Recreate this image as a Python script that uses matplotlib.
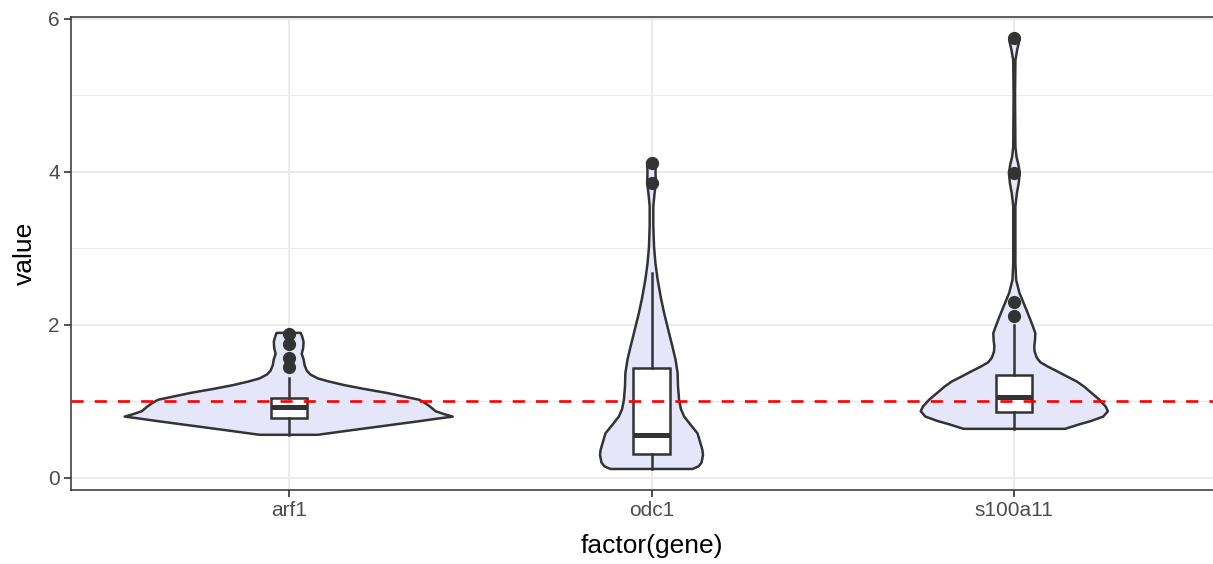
import numpy as np
import matplotlib
matplotlib.use("Agg")
import matplotlib.pyplot as plt

plt.rcParams["font.family"] = ["Liberation Sans", "DejaVu Sans"]

genes = ["arf1", "odc1", "s100a11"]

# violin outline: value level and half-width of the density at that level
arf1_levels = [0.562, 0.62, 0.68, 0.74, 0.78, 0.80, 0.83, 0.87, 0.93, 0.98, 1.02,
               1.06, 1.11, 1.16, 1.21, 1.26, 1.30, 1.35, 1.40, 1.47, 1.55, 1.62,
               1.70, 1.78, 1.85, 1.895]
arf1_width = [0.08, 0.17, 0.265, 0.36, 0.42, 0.452, 0.43, 0.405, 0.39, 0.375, 0.36,
              0.32, 0.27, 0.21, 0.155, 0.11, 0.08, 0.06, 0.05, 0.044, 0.041, 0.036,
              0.040, 0.041, 0.037, 0.033]

odc1_levels = [0.115, 0.15, 0.2, 0.3, 0.37, 0.45, 0.58, 0.68, 0.80, 0.90, 1.02,
               1.2, 1.37, 1.55, 1.71, 1.9, 2.15, 2.35, 2.59, 2.8, 3.02, 3.3, 3.55,
               3.7, 3.86, 4.0, 4.13]
odc1_width = [0.113, 0.13, 0.138, 0.142, 0.14, 0.135, 0.127, 0.11, 0.09, 0.081, 0.076,
              0.073, 0.072, 0.066, 0.058, 0.048, 0.035, 0.026, 0.017, 0.011, 0.007,
              0.005, 0.005, 0.008, 0.012, 0.011, 0.012]

s100a11_levels = [0.64, 0.70, 0.74, 0.80, 0.87, 0.93, 1.02, 1.10, 1.19, 1.26, 1.32,
                  1.40, 1.455, 1.51, 1.57, 1.65, 1.72, 1.80, 1.89, 1.97, 2.07, 2.2,
                  2.42, 2.59, 2.8, 3.3, 3.55, 3.72, 3.85, 3.99, 4.1, 4.2, 4.33, 5.0,
                  5.46, 5.6, 5.7, 5.75]
s100a11_width = [0.14, 0.18, 0.21, 0.245, 0.258, 0.252, 0.235, 0.215, 0.193, 0.172,
                 0.147, 0.115, 0.092, 0.072, 0.062, 0.056, 0.055, 0.057, 0.058, 0.052,
                 0.044, 0.033, 0.014, 0.005, 0.003, 0.003, 0.003, 0.007, 0.012, 0.015,
                 0.011, 0.006, 0.003, 0.002, 0.003, 0.008, 0.013, 0.014]

# boxplot summaries
box_q1 = [0.78, 0.31, 0.855]
box_med = [0.92, 0.56, 1.05]
box_q3 = [1.04, 1.44, 1.35]
whisk_lo = [0.562, 0.115, 0.64]
whisk_hi = [1.31, 2.68, 2.0]
outliers = [[1.45, 1.56, 1.75, 1.88],
            [3.86, 4.12],
            [2.11, 2.30, 3.99, 5.75]]

ref_line = 1.0

levels = [arf1_levels, odc1_levels, s100a11_levels]
widths = [arf1_width, odc1_width, s100a11_width]

W, H = 1213, 564
fig = plt.figure(figsize=(W / 100, H / 100), dpi=100)
left, right, top, bottom = 71, 1232, 16.7, 490
ax = fig.add_axes([left / W, 1 - bottom / H, (right - left) / W, (bottom - top) / H])

dark = "#333333"
ax.set_facecolor("white")
ax.set_axisbelow(True)

for i, g in enumerate(genes):
    pos = i + 1
    y = np.array(levels[i])
    w = np.array(widths[i])
    xs = np.concatenate([pos - w, (pos + w)[::-1]])
    ys = np.concatenate([y, y[::-1]])
    ax.fill(xs, ys, facecolor="#E6E6FA", edgecolor=dark, linewidth=1.8,
            joinstyle="round", zorder=2)

stats = []
for i, g in enumerate(genes):
    stats.append({"med": box_med[i], "q1": box_q1[i], "q3": box_q3[i],
                  "whislo": whisk_lo[i], "whishi": whisk_hi[i],
                  "fliers": outliers[i], "label": g})

ax.bxp(stats, positions=[1, 2, 3], widths=0.1, showcaps=False, patch_artist=True,
       boxprops=dict(facecolor="white", edgecolor=dark, linewidth=1.8),
       whiskerprops=dict(color=dark, linewidth=1.8),
       medianprops=dict(color=dark, linewidth=3.6, solid_capstyle="butt"),
       flierprops=dict(marker="o", markerfacecolor=dark, markeredgecolor=dark,
                       markersize=8.5),
       zorder=3)

ax.axhline(ref_line, color="#FF0000", linewidth=1.9, linestyle=(0, (4.6, 4.2)), zorder=4)

ax.set_xlim(0.4, 3.6)
ax.set_ylim(-0.16, 6.03)
ax.set_xticks([1, 2, 3])
ax.set_xticklabels(genes)
ax.set_yticks([0, 2, 4, 6])
ax.set_yticks([1, 3, 5], minor=True)
ax.tick_params(axis="both", which="major", length=5, width=1.2, color=dark,
               labelsize=15, labelcolor="#4D4D4D", pad=3)
ax.tick_params(axis="y", which="minor", length=0)
ax.grid(which="major", color="#EBEBEB", linewidth=1.5)
ax.grid(which="minor", axis="y", color="#EBEBEB", linewidth=0.8)
for s in ax.spines.values():
    s.set_color(dark)
    s.set_linewidth(1.1)

ax.set_xlabel("factor(gene)", fontsize=19)
ax.set_ylabel("value", fontsize=19, labelpad=8)
ax.xaxis.set_label_coords((651.5 - left) / (right - left), -(534 - bottom) / (bottom - top))

fig.savefig("out.png", dpi=100)
